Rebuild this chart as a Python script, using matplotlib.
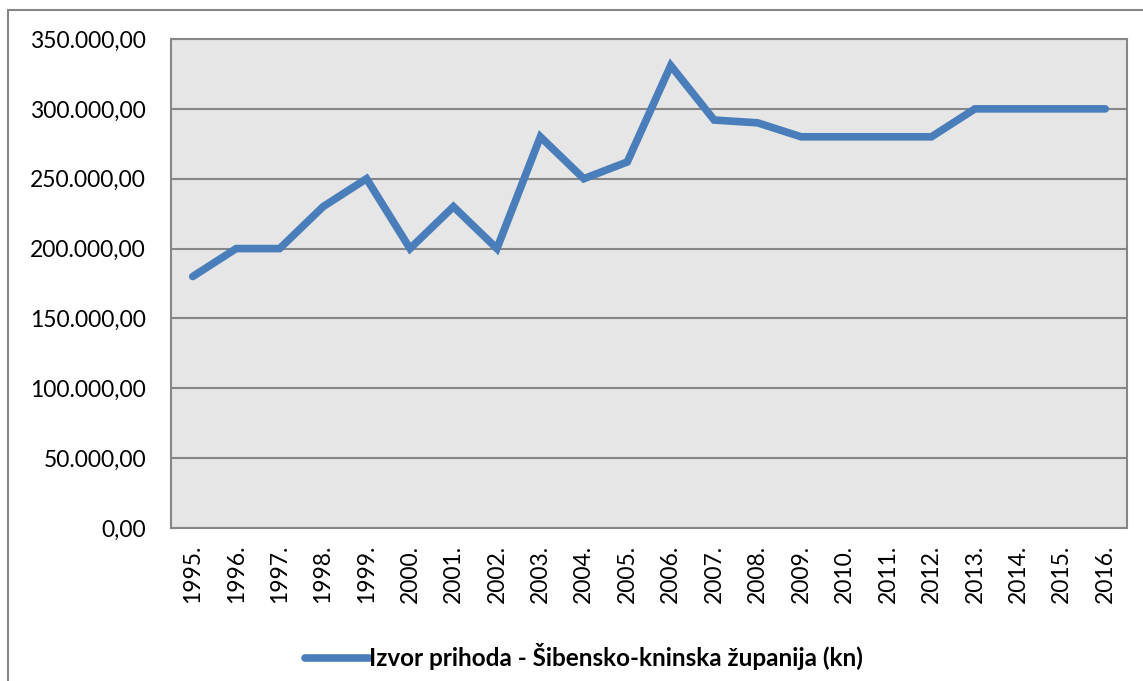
import matplotlib.pyplot as plt
from matplotlib.patches import Rectangle
from matplotlib.ticker import FuncFormatter

# Data
years = ['1995.', '1996.', '1997.', '1998.', '1999.', '2000.', '2001.', '2002.',
         '2003.', '2004.', '2005.', '2006.', '2007.', '2008.', '2009.', '2010.',
         '2011.', '2012.', '2013.', '2014.', '2015.', '2016.']
prihod = [180000, 200000, 200000, 230000, 250000, 200000, 230000, 200000,
          280000, 250000, 262000, 331000, 292000, 290000, 280000, 280000,
          280000, 280000, 300000, 300000, 300000, 300000]
y_ticks = [0, 50000, 100000, 150000, 200000, 250000, 300000, 350000]
serie_name = 'Izvor prihoda - Šibensko-kninska županija (kn)'

plt.rcParams['font.family'] = ['Lato', 'DejaVu Sans']

W, H = 1143, 681
fig = plt.figure(figsize=(W / 100, H / 100), dpi=100)
ax = fig.add_axes([171 / W, 1 - 528 / H, (1127 - 171) / W, (528 - 39) / H])

# outer chart border (Excel style)
fig.patches.append(Rectangle((8 / W, -0.05), 1.2, 1 - 10 / H + 0.05,
                             transform=fig.transFigure, fill=False,
                             edgecolor='#868686', linewidth=1.5))

x = list(range(len(years)))
ax.plot(x, prihod, color='#4a7ebb', linewidth=5.5, solid_capstyle='round',
        solid_joinstyle='miter', label=serie_name, zorder=3)

ax.set_facecolor('#e6e6e6')
ax.set_xlim(-0.5, len(years) - 0.5)
ax.set_ylim(0, 350000)
ax.set_yticks(y_ticks)
ax.yaxis.set_major_formatter(FuncFormatter(
    lambda v, p: f'{v:,.2f}'.replace(',', 'X').replace('.', ',').replace('X', '.')))
ax.set_xticks(x)
ax.set_xticklabels(years, rotation=90)
ax.tick_params(axis='both', length=0, labelsize=16.5, colors='black')
ax.tick_params(axis='x', pad=12)
ax.tick_params(axis='y', pad=18)
ax.grid(axis='y', color='#868686', linewidth=1.5)
ax.set_axisbelow(True)
for s in ax.spines.values():
    s.set_color('#868686')
    s.set_linewidth(1.5)

leg = fig.legend(loc='center', bbox_to_anchor=(584 / W, 1 - 657 / H), frameon=False,
                 handlelength=2.6, handletextpad=0.0,
                 prop={'weight': 'bold', 'size': 17.5})

fig.savefig('out.png', dpi=100)
